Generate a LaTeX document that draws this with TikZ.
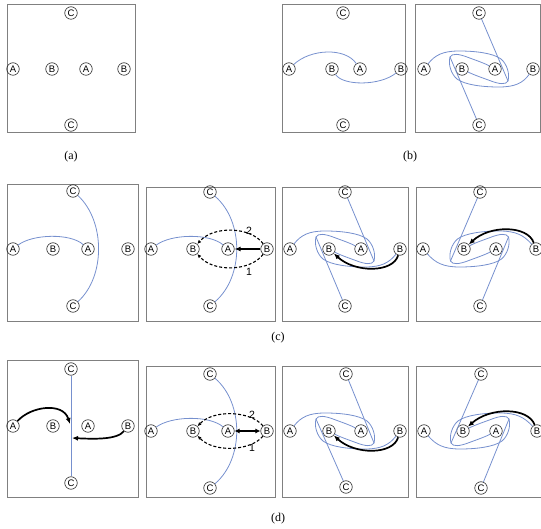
\documentclass[tikz,border=0pt]{standalone}
\usepackage{fontspec}
\setmainfont{Liberation Serif}
\setsansfont{Liberation Sans}
\usetikzlibrary{arrows.meta}
\definecolor{lineblue}{RGB}{118,144,206}
\definecolor{boxgray}{RGB}{128,128,128}
\tikzset{
  rod/.style={circle,draw=black!85,line width=0.6pt,inner sep=0pt,minimum size=12.5pt,
    font=\sffamily\fontsize{9.5}{9.5}\selectfont},
  panelbox/.style={draw=boxgray,line width=0.9pt},
  mline/.style={draw=lineblue,line width=0.8pt},
  bmove/.style={draw=black,line width=1.7pt,-{Latex[length=6pt,width=5pt]}},
  bmovetwo/.style={draw=black,line width=1.7pt,{Latex[length=5pt,width=5pt]}-{Latex[length=5pt,width=5pt]}},
  dashmove/.style={draw=black,line width=1.1pt,dash pattern=on 3pt off 2pt,-{Latex[length=4pt,width=3.5pt]}},
  figlabel/.style={font=\fontsize{12}{14}\selectfont},
  pathnum/.style={font=\sffamily\fontsize{10.5}{10.5}\selectfont,inner sep=0pt}
}
\newcommand\rodrow[6]{%
  \node[rod] (#1A1) at (#3,#2) {A};
  \node[rod] (#1B1) at (#4,#2) {B};
  \node[rod] (#1A2) at (#5,#2) {A};
  \node[rod] (#1B2) at (#6,#2) {B};}
\newcommand\crods[4]{%
  \node[rod] (#1Ct) at (#2,#3) {C};
  \node[rod] (#1Cb) at (#2,#4) {C};}
\newcommand\frm[4]{\draw[panelbox] (#1,#2) rectangle (#3,#4);}
\newcommand\twistpath{.. controls (-44,-14) and (-36,-18) .. (-20,-18)
   .. controls (-4,-18) and (14,-16) .. (22,-10)
   .. controls (28,-5) and (31,5) .. (29,12)
   .. controls (27,16) and (20,15) .. (12,12)
   .. controls (4,9) and (-5,6) ..}
\newcommand\twist[4]{%
  \begin{scope}[shift={(#1O)},yscale=#2]
    \draw[mline] (#1A1) \twistpath (#1B1);
    \draw[mline] (#1#3) -- (29,12);
    \begin{scope}[rotate=180]
      \draw[mline] (#1B2) \twistpath (#1A2);
      \draw[mline] (#1#4) -- (29,12);
    \end{scope}
  \end{scope}}
\newcommand\arcs[1]{%
  \begin{scope}[shift={(#1O)}]
    \draw[mline] (#1A1) .. controls (-38,-15) and (0,-16) .. (#1A2);
    \draw[mline] (#1Ct) .. controls (35,-28) and (35,28) .. (#1Cb);
  \end{scope}}

\begin{document}
\begin{tikzpicture}[x=1pt,y=-1pt]
\useasboundingbox (0,0) rectangle (541,529);

% ---------- row 1 ----------
\frm{7}{4}{135}{132}
\rodrow{a}{69}{13}{52}{86}{124}
\crods{a}{71}{13}{125}

\frm{282}{4}{405}{132}
\rodrow{p}{69}{289}{332}{360}{401}
\crods{p}{343}{13}{125}
\coordinate (pO) at (345,69);
\begin{scope}[shift={(pO)}]
  \draw[mline] (pA1) .. controls (-35,-20) and (0,-22) .. (pA2);
  \draw[mline] (pB1) .. controls (-2,17) and (35,17) .. (pB2);
\end{scope}

\frm{415}{4}{540}{132}
\rodrow{q}{69}{424}{462}{495}{533}
\crods{q}{479}{13}{125}
\coordinate (qO) at (479,69);
\twist{q}{1}{Ct}{Cb}

\node[figlabel] (laba) at (71,157) {(a)};
\node[figlabel] (labb) at (410,157) {(b)};

% ---------- row 2 ----------
\frm{7}{184}{138}{321}
\rodrow{c1}{249}{13}{53}{88}{128}
\crods{c1}{73}{191}{306}
\coordinate (c1O) at (70.5,249);
\arcs{c1}

\frm{146}{187}{275}{321}
\rodrow{c2}{249}{151}{193}{228}{267}
\crods{c2}{210}{192}{306}
\coordinate (c2O) at (209,249);
\arcs{c2}
\begin{scope}[shift={(c2O)}]
  \draw[dashmove] (c2B2) .. controls (42,-22) and (5,-24) .. (c2B1);
  \draw[dashmove] (c2B2) .. controls (42,22) and (5,24) .. (c2B1);
  \node[pathnum] (c2n2) at (40,-18) {2};
  \node[pathnum] (c2n1) at (40,23) {1};
\end{scope}
\draw[bmove] (c2B2) -- (c2A2);

\frm{282}{187}{408}{321}
\rodrow{c3}{249}{290}{329}{361}{400}
\crods{c3}{345}{192}{306}
\coordinate (c3O) at (345,249);
\twist{c3}{1}{Ct}{Cb}
\begin{scope}[shift={(c3O)}]
  \draw[bmove] (c3B2) .. controls (48,24) and (10,24) .. (c3B1);
\end{scope}

\frm{416}{187}{548}{321}
\rodrow{c4}{249}{423}{464}{496}{536}
\crods{c4}{480}{192}{306}
\coordinate (c4O) at (479.5,249);
\twist{c4}{-1}{Cb}{Ct}
\begin{scope}[shift={(c4O)}]
  \draw[bmove] (c4B2) .. controls (48,-24) and (10,-24) .. (c4B1);
\end{scope}

\node[figlabel] (labc) at (278,338) {(c)};

% ---------- row 3 ----------
\frm{7}{360}{138}{497}
\rodrow{d1}{426}{13}{53}{88}{128}
\crods{d1}{71}{369}{483}
\coordinate (d1O) at (71,426);
\draw[mline] (d1Ct) -- (d1Cb);
\begin{scope}[shift={(d1O)}]
  \coordinate (d1P) at (-1,-2);
  \coordinate (d1Q) at (1,12);
  \draw[bmove] (d1A1) .. controls (-40,-20) and (-8,-24) .. (d1P);
  \draw[bmove] (d1B2) .. controls (46,14) and (22,13) .. (d1Q);
\end{scope}

\frm{146}{366}{275}{497}
\rodrow{d2}{431}{151}{193}{228}{267}
\crods{d2}{210}{374}{488}
\coordinate (d2O) at (209,431);
\arcs{d2}
\begin{scope}[shift={(d2O)}]
  \draw[dashmove] (d2B2) .. controls (42,-20) and (5,-22) .. (d2B1);
  \draw[dashmove] (d2B2) .. controls (42,20) and (5,22) .. (d2B1);
  \node[pathnum] (d2n2) at (43,-16) {2};
  \node[pathnum] (d2n1) at (43,17) {1};
\end{scope}
\draw[bmovetwo] (d2B2) -- (d2A2);

\frm{282}{366}{408}{497}
\rodrow{d3}{431}{290}{329}{361}{400}
\crods{d3}{346}{374}{487}
\coordinate (d3O) at (345,431);
\twist{d3}{1}{Ct}{Cb}
\begin{scope}[shift={(d3O)}]
  \draw[bmove] (d3B2) .. controls (48,24) and (10,24) .. (d3B1);
\end{scope}

\frm{416}{366}{548}{497}
\rodrow{d4}{431}{424}{463}{496}{537}
\crods{d4}{481}{374}{488}
\coordinate (d4O) at (480,431);
\twist{d4}{-1}{Cb}{Ct}
\begin{scope}[shift={(d4O)}]
  \draw[bmove] (d4B2) .. controls (48,-24) and (10,-24) .. (d4B1);
\end{scope}

\node[figlabel] (labd) at (278,519) {(d)};
\end{tikzpicture}
\end{document}
